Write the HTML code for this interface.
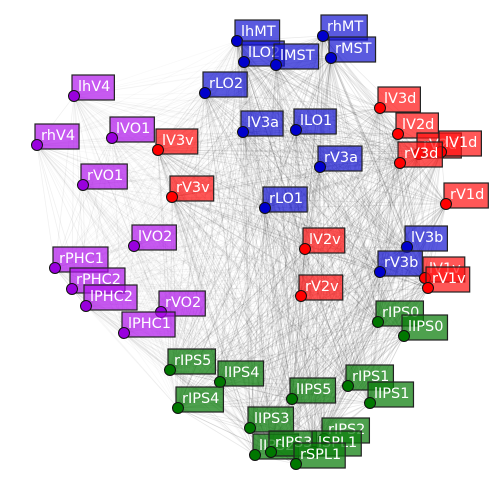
<!DOCTYPE html>
<html><head><meta charset="utf-8"><style>
html,body{margin:0;padding:0;background:#fff;width:500px;height:500px;overflow:hidden}
text{font-family:"DejaVu Sans","Liberation Sans",sans-serif;font-size:14.5px;fill:#fff}
</style></head><body>
<svg id="chart" width="500" height="500" xmlns="http://www.w3.org/2000/svg">
<g id="edges"></g>
<g id="nodes"></g>
</svg>
<script>
const names=["lhMT","lLO2","lMST","rhMT","rMST","rLO2","lV3a","lLO1","rV3a","rLO1","lV3b","rV3b",
"lV3d","lV2d","rV2d","lV1d","rV3d","rV1d","lV2v","rV2v","lV1v","rV1v","lV3v","rV3v",
"lhV4","rhV4","lVO1","rVO1","lVO2","rPHC1","rPHC2","lPHC2","rVO2","lPHC1",
"rIPS0","lIPS0","rIPS1","lIPS1","lIPS5","rIPS5","lIPS4","rIPS4","lIPS3","lIPS2","rIPS3","rIPS2","lSPL1","rSPL1"];
const xs=[237,244,276,323,331,205,243,296,320,265,407,380,
380,398,419,441,400,446,305,301,425,428,158,172,
74,37,112,83,134,55,72,86,161,124,
378,404,348,370,292,170,220,178,250,255,271,324,314,296];
const ys=[41,62,65,36,58,93,132,130,167,208,247,272,
108,134,154,152,163,204,249,296,278,288,150,197,
96,145,138,185,246,268,289,306,312,333,
322,336,386,403,399,370,382,408,428,455,452,439,452,464];
const groups=["v","v","v","v","v","v","v","v","v","v","v","v",
"r","r","r","r","r","r","r","r","r","r","r","r",
"p","p","p","p","p","p","p","p","p","p",
"g","g","g","g","g","g","g","g","g","g","g","g","g","g"];
const boxFill={v:"rgba(20,20,210,0.7)",r:"rgba(255,15,15,0.7)",p:"rgba(175,20,235,0.7)",g:"rgba(10,125,10,0.72)"};
const dotFill={v:"#0000cc",r:"#ff0000",p:"#9900dd",g:"#007700"};
const NS="http://www.w3.org/2000/svg";
const eg=document.getElementById('edges'),ng=document.getElementById('nodes');
for(let i=0;i<names.length;i++)for(let j=i+1;j<names.length;j++){
  const l=document.createElementNS(NS,'line');
  
  
  l.setAttribute('x1',xs[i]);l.setAttribute('y1',ys[i]);l.setAttribute('x2',xs[j]);l.setAttribute('y2',ys[j]);
  const w=(groups[i]!=='p'&&groups[j]!=='p')?0.09:(groups[i]===groups[j]?0.06:0.03);
  l.setAttribute('stroke','#000');l.setAttribute('stroke-opacity',w);l.setAttribute('stroke-width','0.8');
  eg.appendChild(l);
}
for(let i=0;i<names.length;i++){
  const g=document.createElementNS(NS,'g');
  
  
  const t=document.createElementNS(NS,'text');
  
  
  t.setAttribute('x',xs[i]+4);t.setAttribute('y',ys[i]-5);t.textContent=names[i];
  const r=document.createElementNS(NS,'rect');
  
  
  g.appendChild(r);g.appendChild(t);ng.appendChild(g);
  const w=t.getComputedTextLength();
  r.setAttribute('x',xs[i]-2);r.setAttribute('y',ys[i]-21);r.setAttribute('width',w+10);r.setAttribute('height',25);
  r.setAttribute('fill',boxFill[groups[i]]);r.setAttribute('stroke','#222');r.setAttribute('stroke-width','1.2');
  const c=document.createElementNS(NS,'circle');
  
  
  c.setAttribute('cx',xs[i]);c.setAttribute('cy',ys[i]);c.setAttribute('r',5.5);
  c.setAttribute('fill',dotFill[groups[i]]);c.setAttribute('stroke','#111');c.setAttribute('stroke-width','1');
  g.insertBefore(c,t);
}
</script>
</body></html>
